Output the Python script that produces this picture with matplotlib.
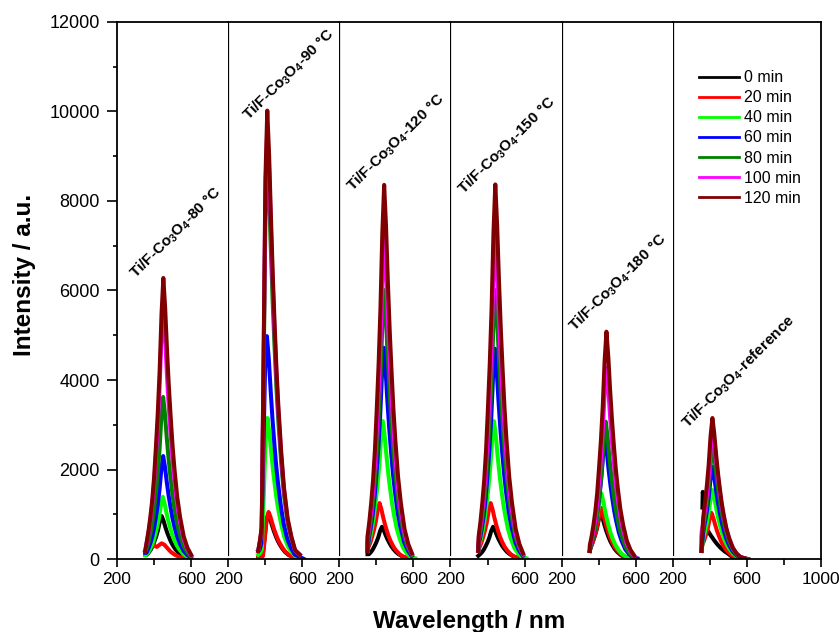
import numpy as np
import matplotlib.pyplot as plt
from matplotlib.ticker import FixedLocator, MultipleLocator

plt.rcParams['font.family'] = ['Liberation Sans', 'DejaVu Sans']

# legend entries / colours
times = ['0 min', '20 min', '40 min', '60 min', '80 min', '100 min', '120 min']
colors = ['black', 'red', '#00ff00', 'blue', 'green', 'magenta', '#800000']

# samples (one panel each)
samples = ['80 °C', '90 °C', '120 °C', '150 °C', '180 °C', 'reference']

# peak intensities (0 ... 120 min)
h_80 = [960, 360, 1390, 2300, 3620, 5610, 6280]
h_90 = [1000, 1050, 3150, 4980, 9000, 9650, 10020]
h_120 = [720, 1250, 3080, 4720, 6010, 7200, 8360]
h_150 = [720, 1250, 3080, 4700, 6010, 7200, 8370]
h_180 = [1030, 1140, 1470, 2680, 3070, 4270, 5080]
h_ref = [1500, 1030, 1540, 2060, 2500, 2880, 3150]
heights = [h_80, h_90, h_120, h_150, h_180, h_ref]

# peak positions (nm)
pk_80 = [441, 441, 447, 449, 449, 449, 450]
pk_90 = [416, 418, 412, 409, 411, 411, 411]
pk_120 = [430, 417, 435, 440, 442, 442, 442]
pk_150 = [430, 417, 435, 440, 442, 442, 442]
pk_180 = [411, 414, 414, 434, 438, 442, 442]
pk_ref = [390, 409, 414, 414, 416, 416, 414]
peaks = [pk_80, pk_90, pk_120, pk_150, pk_180, pk_ref]

# where the recorded spectra begin (nm)
start_nm = [352, 362, 352, 350, 352, 355]
start_level = 180

# band shape around the peak (offset in nm, relative intensity)
shape_nm = np.array([-90, -80, -70, -60, -50, -40, -30, -20, -10, 0, 10, 20, 30,
                     40, 50, 60, 75, 90, 110, 130, 150, 175, 200])
shape_a = np.array([0.06, 0.10, 0.15, 0.21, 0.29, 0.40, 0.52, 0.67, 0.87, 1.0, 0.89,
                    0.74, 0.61, 0.50, 0.40, 0.32, 0.22, 0.15, 0.08, 0.04, 0.015, 0.005, 0.0])
# the 90 °C sample rises more steeply
shape_b = np.array([0.02, 0.02, 0.03, 0.03, 0.03, 0.04, 0.07, 0.45, 0.85, 1.0, 0.90,
                    0.76, 0.63, 0.52, 0.42, 0.34, 0.24, 0.16, 0.09, 0.05, 0.02, 0.01, 0.0])
shapes = [shape_a, shape_b, shape_a, shape_a, shape_a, shape_a]

# curves that do not follow the common shape
red_80_nm = [355, 365, 380, 400, 415, 430, 441, 455, 470, 490, 510, 540, 570]
red_80_val = [100, 300, 280, 300, 270, 320, 350, 320, 250, 160, 100, 40, 0]
black_ref_nm = [360, 362, 366, 375, 387, 400, 423, 440, 459, 480, 495, 510, 523, 545]
black_ref_val = [1150, 1500, 1300, 900, 650, 560, 420, 330, 245, 170, 130, 80, 40, 0]
special = {(0, 1): (red_80_nm, red_80_val), (5, 0): (black_ref_nm, black_ref_val)}

# label positions (nm, intensity) inside each panel
label_x = [519, 530, 508, 503, 503, 557]
label_y = [7300, 10815, 9300, 9230, 6170, 4180]

fig, axes = plt.subplots(1, 6, sharey=True, figsize=(8.39, 6.32), dpi=100,
                         gridspec_kw=dict(width_ratios=[6, 6, 6, 6, 6, 8], wspace=0))
fig.subplots_adjust(left=0.1395, right=0.9785, bottom=0.1155, top=0.9652)

for i, ax in enumerate(axes):
    for j in range(len(times)):
        if (i, j) in special:
            x, y = special[(i, j)]
        else:
            wl = peaks[i][j] + shape_nm
            val = heights[i][j] * shapes[i]
            keep = (wl >= start_nm[i]) & (wl <= 610)
            y0 = min(start_level, val[keep][0])
            x = np.r_[start_nm[i], wl[keep]]
            y = np.r_[y0, val[keep]]
        ax.plot(x, y, color=colors[j], lw=2.9, label=times[j],
                solid_joinstyle='round')

    label = r'Ti/F-Co$\mathregular{_3}$O$\mathregular{_4}$-' + samples[i]
    ax.text(label_x[i], label_y[i], label, rotation=45, ha='center', va='center',
            fontsize=11, fontweight='bold', rotation_mode='anchor')

    last = i == len(axes) - 1
    ax.set_xlim(200, 1000 if last else 800)
    ax.xaxis.set_major_locator(FixedLocator([200, 600, 1000] if last else [200, 600]))
    ax.xaxis.set_minor_locator(FixedLocator([400, 800] if last else [400]))
    ax.tick_params(axis='x', which='major', direction='out', length=5.5, width=1.2,
                   labelsize=12.5, pad=3.5)
    ax.tick_params(axis='x', which='minor', direction='out', length=4, width=1.2)
    for s in ax.spines.values():
        s.set_linewidth(1.3)
    if i > 0:
        ax.spines['left'].set_visible(False)
        ax.tick_params(axis='y', which='both', left=False)
        ax.axvline(200, ymin=0.007, ymax=1, color='black', lw=0.9)
    if not last:
        ax.spines['right'].set_visible(False)

ax0 = axes[0]
ax0.set_ylim(0, 12000)
ax0.yaxis.set_major_locator(MultipleLocator(2000))
ax0.yaxis.set_minor_locator(MultipleLocator(1000))
ax0.tick_params(axis='y', which='major', direction='out', length=7, width=1.2,
                labelsize=13, pad=5.5)
ax0.tick_params(axis='y', which='minor', direction='out', length=3, width=1.2)

handles, labels = axes[-1].get_legend_handles_labels()
leg = fig.legend(handles, labels, loc='upper left', bbox_to_anchor=(0.833, 0.889),
                 bbox_transform=fig.transFigure, frameon=False, fontsize=11.5,
                 handlelength=2.5, handletextpad=0.3, labelspacing=0.32, borderpad=0,
                 borderaxespad=0)
for line in leg.get_lines():
    line.set_linewidth(2)

fig.text(0.029, 0.565, 'Intensity / a.u.', rotation=90, ha='center', va='center',
         fontsize=17.5, fontweight='bold')
fig.text(0.559, 0.007, 'Wavelength / nm', ha='center', va='baseline',
         fontsize=17.5, fontweight='bold')

fig.savefig('out.png', dpi=100)
